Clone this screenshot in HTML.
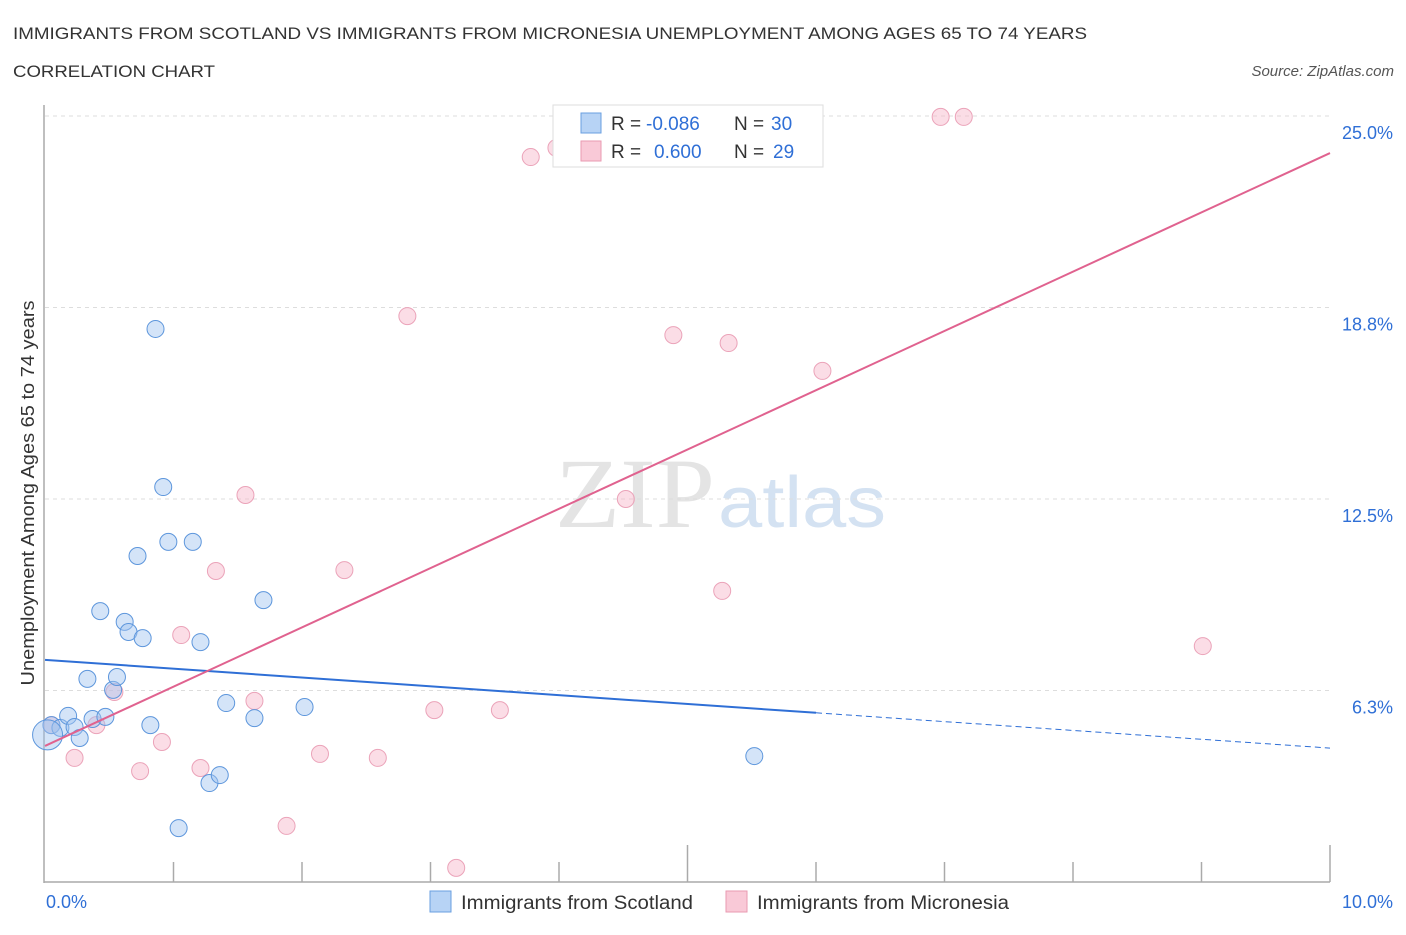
<!DOCTYPE html>
<html><head><meta charset="utf-8"><style>
body{margin:0;background:#fff;font-family:"Liberation Sans",sans-serif;}
</style></head><body>
<svg id="c" width="1406" height="930" xmlns="http://www.w3.org/2000/svg">
<text x="13" y="39" font-size="17" fill="#333" textLength="1074" lengthAdjust="spacingAndGlyphs">IMMIGRANTS FROM SCOTLAND VS IMMIGRANTS FROM MICRONESIA UNEMPLOYMENT AMONG AGES 65 TO 74 YEARS</text>
<text x="13" y="77" font-size="17" fill="#333" textLength="202" lengthAdjust="spacingAndGlyphs">CORRELATION CHART</text>
<text x="1394" y="76" font-size="15" fill="#555" font-style="italic" text-anchor="end">Source: ZipAtlas.com</text>
<text x="555" y="527" font-size="100" fill="#e4e4e4" textLength="160" lengthAdjust="spacingAndGlyphs" font-family="Liberation Serif,serif">ZIP</text>
<text x="718" y="527" font-size="72" fill="#d4e2f2" textLength="168" lengthAdjust="spacingAndGlyphs">atlas</text>
<text transform="translate(34,493) rotate(-90)" font-size="18" fill="#333" text-anchor="middle" textLength="385" lengthAdjust="spacingAndGlyphs">Unemployment Among Ages 65 to 74 years</text>
<g id="grid"></g><g id="pts"></g><g id="lines"></g>
<g>
<rect x="553" y="105" width="270" height="62" fill="#fff" stroke="#ddd"/>
<rect x="581" y="113" width="20" height="20" fill="#b7d3f5" stroke="#6a9fe0"/>
<rect x="581" y="141" width="20" height="20" fill="#f9c9d7" stroke="#e99ab2"/>
<text x="611" y="130" font-size="19" fill="#333">R =</text>
<text x="646" y="130" font-size="19" fill="#2f6fd6">-0.086</text>
<text x="734" y="130" font-size="19" fill="#333">N =</text>
<text x="771" y="130" font-size="19" fill="#2f6fd6">30</text>
<text x="611" y="158" font-size="19" fill="#333">R =</text>
<text x="654" y="158" font-size="19" fill="#2f6fd6">0.600</text>
<text x="734" y="158" font-size="19" fill="#333">N =</text>
<text x="773" y="158" font-size="19" fill="#2f6fd6">29</text>
</g>
<g>
<rect x="430" y="891" width="21" height="21" fill="#b7d3f5" stroke="#6a9fe0"/>
<text x="461" y="909" font-size="19" fill="#333" textLength="232" lengthAdjust="spacingAndGlyphs">Immigrants from Scotland</text>
<rect x="726" y="891" width="21" height="21" fill="#f9c9d7" stroke="#e99ab2"/>
<text x="757" y="909" font-size="19" fill="#333" textLength="252" lengthAdjust="spacingAndGlyphs">Immigrants from Micronesia</text>
</g>
</svg>
<script>
const yTicks=[25,18.75,12.5,6.25];
const yTickLabels=["25.0%","18.8%","12.5%","6.3%"];
const xTickLabels=["0.0%","10.0%"];
const scotX=[0.05,0.12,0.18,0.23,0.27,0.33,0.37,0.43,0.47,0.53,0.56,0.62,0.65,0.72,0.76,0.82,0.86,0.92,0.96,1.04,1.15,1.21,1.28,1.36,1.41,1.63,1.70,2.02,5.52,0.02];
const scotY=[5.12,5.03,5.42,5.06,4.70,6.63,5.32,8.84,5.39,6.27,6.69,8.49,8.16,10.64,7.96,5.12,18.05,12.89,11.10,1.76,11.10,7.83,3.23,3.49,5.84,5.35,9.20,5.71,4.11,4.80];
const micX=[0.05,0.23,0.40,0.54,0.74,0.91,1.06,1.21,1.33,1.56,1.63,1.88,2.14,2.33,2.59,2.82,3.03,3.20,3.54,3.78,3.98,4.52,4.89,5.27,5.32,6.05,6.97,7.15,9.01];
const micY=[5.12,4.05,5.12,6.20,3.62,4.57,8.06,3.72,10.15,12.63,5.91,1.83,4.18,10.18,4.05,18.47,5.61,0.46,5.61,23.66,23.96,12.50,17.85,9.50,17.59,16.68,24.97,24.97,7.70];
const scotTrend=[7.25,4.37];
const micTrend=[4.44,23.79];
const NS="http://www.w3.org/2000/svg";
const X=v=>45+v*128.5, Y=v=>882-v*30.64;
function mk(t,a,p){const e=document.createElementNS(NS,t);for(const k in a)e.setAttribute(k,a[k]);p.appendChild(e);return e;}
const grid=document.getElementById('grid');
yTicks.forEach((t,i)=>{
 const l=mk('line',{x1:45,x2:1330,y1:Y(t),y2:Y(t),stroke:'#ddd','stroke-dasharray':'4,4'},grid);
 
 
 const tx=mk('text',{x:1393,y:Y(t)+23,'font-size':18,fill:'#2f6fd6','text-anchor':'end'},grid);tx.textContent=yTickLabels[i];
 
 
});
mk('line',{x1:44,x2:44,y1:105,y2:883,stroke:'#aaa','stroke-width':1.5},grid);
mk('line',{x1:44,x2:1330,y1:882,y2:882,stroke:'#aaa','stroke-width':1.5},grid);
for(let i=1;i<=10;i++){const l=mk('line',{x1:X(i),x2:X(i),y1:(i==5||i==10)?845:862,y2:882,stroke:'#aaa','stroke-width':1.5},grid);
 
 }
[[0,'start',46],[10,'end',1393]].forEach((d,i)=>{const t=mk('text',{x:d[2],y:908,'font-size':18,fill:'#2f6fd6','text-anchor':d[1]},grid);t.textContent=xTickLabels[i];
 
 });
const pts=document.getElementById('pts');
micX.forEach((x,i)=>{const c=mk('circle',{cx:X(x),cy:Y(micY[i]),r:8.5,fill:'rgba(247,180,200,0.45)',stroke:'#eba3b9','stroke-width':1},pts);
 
 });
scotX.forEach((x,i)=>{const c=mk('circle',{cx:X(x),cy:Y(scotY[i]),r:i==29?15:8.5,fill:'rgba(160,196,240,0.45)',stroke:'#5d96dc','stroke-width':1},pts);
 
 });
const ln=document.getElementById('lines');
const sy=x=>scotTrend[0]+(scotTrend[1]-scotTrend[0])*x/10;
let a=mk('line',{x1:X(0),y1:Y(sy(0)),x2:X(6),y2:Y(sy(6)),stroke:'#2f6fd6','stroke-width':2},ln);


a=mk('line',{x1:X(6),y1:Y(sy(6)),x2:X(10),y2:Y(sy(10)),stroke:'#2f6fd6','stroke-width':1,'stroke-dasharray':'6,4'},ln);


a=mk('line',{x1:X(0),y1:Y(micTrend[0]),x2:X(10),y2:Y(micTrend[1]),stroke:'#e0628f','stroke-width':2},ln);


</script>
</body></html>
